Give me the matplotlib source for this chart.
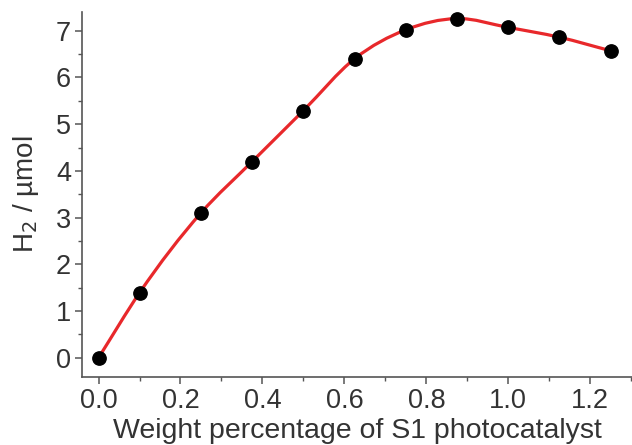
import numpy as np
import matplotlib
matplotlib.use("Agg")
import matplotlib.pyplot as plt
from matplotlib.path import Path
from matplotlib.patches import PathPatch

plt.rcParams['font.family'] = ['Liberation Sans', 'DejaVu Sans']

weight = [0.0, 0.1, 0.25, 0.375, 0.5, 0.625, 0.75, 0.875, 1.0, 1.125, 1.25]
h2 = [0.0, 1.39, 3.10, 4.20, 5.29, 6.40, 7.02, 7.26, 7.07, 6.86, 6.57]

ink = '#333333'

fig = plt.figure(figsize=(6.32, 4.45), dpi=100)
ax = fig.add_axes([0.13, 0.153, 0.87, 0.82])

# smooth red line through the points: cubic Hermite segments drawn as Bezier curves
x = np.array(weight)
y = np.array(h2)
d = np.diff(y) / np.diff(x)
h = np.diff(x)
m = np.empty_like(y)
m[0] = d[0]
m[-1] = d[-1]
m[1:-1] = (h[1:] * d[:-1] + h[:-1] * d[1:]) / (h[:-1] + h[1:])
verts = [(x[0], y[0])]
codes = [Path.MOVETO]
for i in range(len(x) - 1):
    verts += [(x[i] + h[i] / 3, y[i] + m[i] * h[i] / 3),
              (x[i + 1] - h[i] / 3, y[i + 1] - m[i + 1] * h[i] / 3),
              (x[i + 1], y[i + 1])]
    codes += [Path.CURVE4] * 3
ax.add_patch(PathPatch(Path(verts, codes), facecolor='none',
                       edgecolor='#e8282b', lw=2.3, zorder=2))

ax.plot(weight, h2, 'o', color='black', markersize=9.6, zorder=3, clip_on=False)

ax.set_xlim(-0.04, 1.302)
ax.set_ylim(-0.41, 7.4)
ax.set_xticks(np.arange(0, 1.21, 0.2))
ax.set_xticks(np.arange(0.1, 1.31, 0.2), minor=True)
ax.set_yticks(range(8))
ax.set_yticks(np.arange(0.5, 7.3, 1), minor=True)
ax.xaxis.set_major_formatter(plt.FormatStrFormatter('%.1f'))

for s in ['top', 'right']:
    ax.spines[s].set_visible(False)
for s in ['left', 'bottom']:
    ax.spines[s].set_color('#555555')
    ax.spines[s].set_linewidth(1.2)

ax.tick_params(which='major', length=5, width=1.1, color='#555555',
               labelsize=19.5, labelcolor=ink, pad=3)
ax.tick_params(which='minor', length=3, width=1.0, color='#555555')

ax.set_xlabel('Weight percentage of S1 photocatalyst', fontsize=20.5,
              color=ink, labelpad=3)
ax.set_ylabel('H$_2$ / \u00b5mol', fontsize=20, color=ink, labelpad=11)

fig.savefig('out.png', dpi=100)
